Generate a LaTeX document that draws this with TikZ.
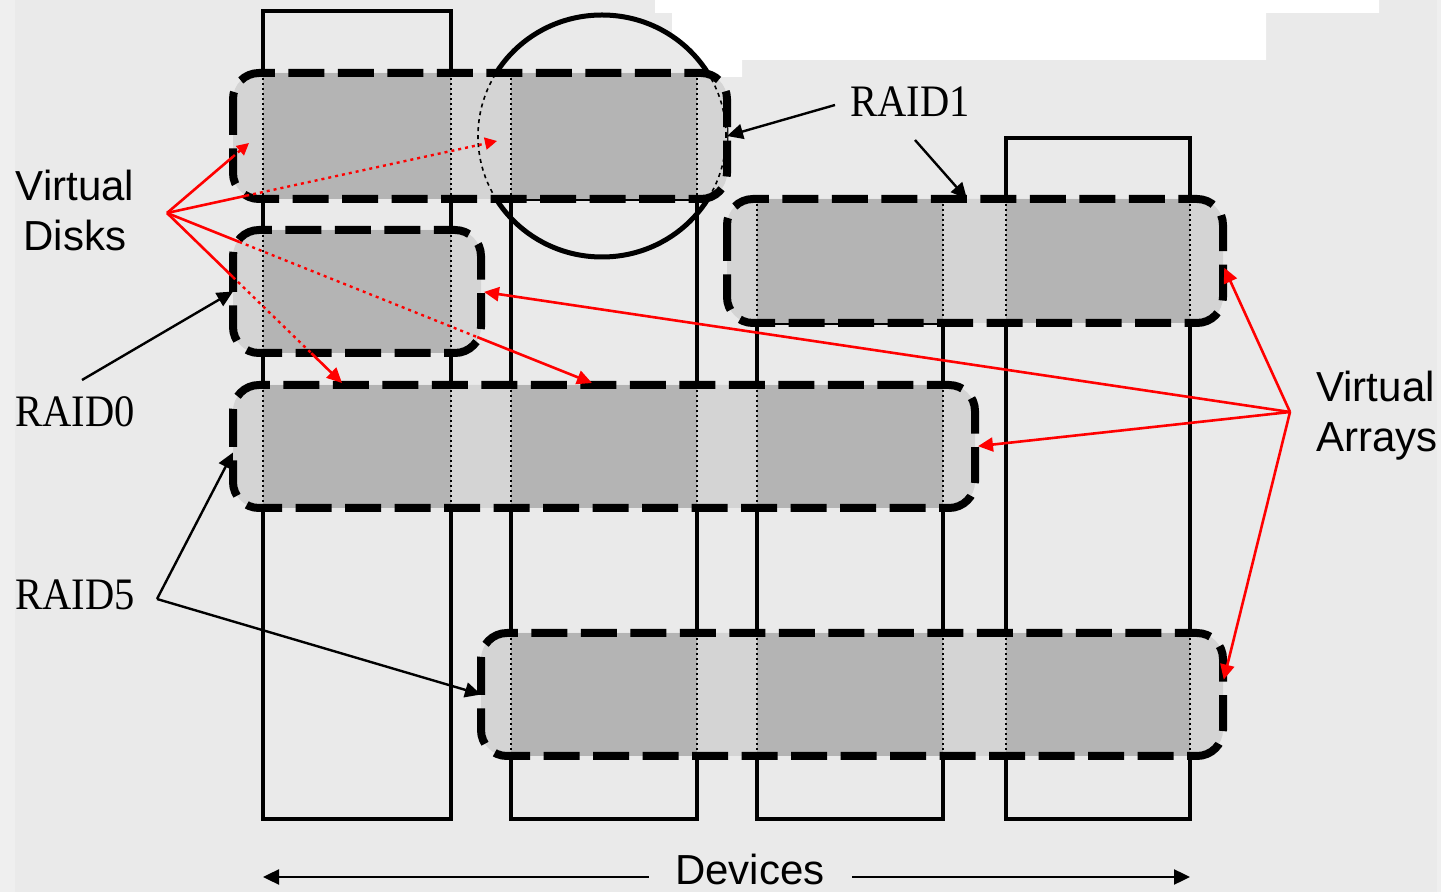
\documentclass[tikz,border=0pt]{standalone}
\usepackage{fontspec}
\setmainfont{Liberation Sans}
\newfontfamily\raidfont[FakeStretch=0.9]{Liberation Serif}
\usetikzlibrary{arrows.meta,fit,calc,shapes.geometric}
\definecolor{bgc}{HTML}{EAEAEA}
\definecolor{bgl}{HTML}{EFEFEF}
\definecolor{darkf}{HTML}{B4B4B4}
\definecolor{lightf}{HTML}{D4D4D4}
\definecolor{redc}{HTML}{FF0000}
\begin{document}
\begin{tikzpicture}[x=0.5pt,y=-0.5pt,
  devcol/.style={draw=black,line width=1.6pt,inner sep=0pt,outer sep=0pt,rectangle},
  boxn/.style={inner sep=0pt,outer sep=0pt,rectangle,rounded corners=13pt,fill=lightf},
  cedge/.style={draw=black,line width=0.9pt,dash pattern=on 1pt off 1.5pt},
  vborder/.style={draw=black,line width=4pt,dash pattern=on 18pt off 6.75pt,rounded corners=13pt},
  mirrorst/.style={ellipse,draw=black,line width=2.5pt,fill=bgc,inner sep=0pt,minimum width=124pt,minimum height=121pt},
  blk/.style={draw=black,line width=1.2pt,-{Triangle[length=8pt,width=7.5pt]}},
  rd/.style={draw=redc,line width=1.3pt},
  rdarr/.style={draw=redc,line width=1.3pt,-{Triangle[length=7.5pt,width=7pt]}},
  rddot/.style={draw=redc,line width=1.2pt,dash pattern=on 1.5pt off 2pt},
  rddotarr/.style={rddot,-{Triangle[length=6pt,width=6pt]}},
  lab/.style={inner sep=0pt,font=\fontsize{21}{25}\selectfont},
  rlab/.style={inner sep=0pt,font=\raidfont\fontsize{22.5}{26}\selectfont},
]
\useasboundingbox (0,0) rectangle (1441,892);
% background
\fill[bgc] (0,0) rectangle (1441,892);
\fill[bgl] (0,0) rectangle (15,892);
\fill[bgl] (1437,0) rectangle (1441,892);
\fill[white] (655,0) -- (1379,0) -- (1379,13) -- (1266,13) -- (1266,60) -- (742,60) -- (742,77) -- (672,77) -- (672,13) -- (655,13) -- cycle;
% mirror circle
\node[mirrorst] (mirror) at (602,136) {};
% devices (columns)
\node[devcol,fit={(263,11) (451,819)}] (d1) {};
\node[devcol,fit={(511,199) (697,819)}] (d2) {};
\node[devcol,fit={(757,323) (943,819)}] (d3) {};
\node[devcol,fit={(1006,138) (1190,819)}] (d4) {};

% ---- box A (RAID1, top left)
\node[boxn,fit={(233,73) (727,199)}] (boxA) {};
\fill[darkf] (263,73) rectangle (451,199);
\fill[darkf] (511,73) rectangle (697,199);
\foreach \x in {263,451,511,697} \draw[cedge] (\x,73) -- (\x,199);
\begin{scope}
\clip[rounded corners=13pt] (boxA.north west) rectangle (boxA.south east);
\draw[black,line width=0.8pt,dash pattern=on 2pt off 2pt] (mirror.center) ellipse [x radius=62pt,y radius=60.5pt];
\end{scope}
\draw[vborder] (boxA.north west) rectangle (boxA.south east);

% ---- box D (RAID1, right)
\node[boxn,fit={(727,199) (1223,323)}] (boxD) {};
\fill[darkf] (757,199) rectangle (943,323);
\fill[darkf] (1006,199) rectangle (1190,323);
\foreach \x in {757,943,1006,1190} \draw[cedge] (\x,199) -- (\x,323);
\draw[vborder] (boxD.north west) rectangle (boxD.south east);

% ---- box B (RAID0)
\node[boxn,fit={(233,230) (481,353)}] (boxB) {};
\fill[darkf] (263,230) rectangle (451,353);
\foreach \x in {263,451} \draw[cedge] (\x,230) -- (\x,353);
\draw[vborder] (boxB.north west) rectangle (boxB.south east);

% ---- box C (RAID5, middle)
\node[boxn,fit={(233,385) (975,508)}] (boxC) {};
\fill[darkf] (263,385) rectangle (451,508);
\fill[darkf] (511,385) rectangle (697,508);
\fill[darkf] (757,385) rectangle (943,508);
\foreach \x in {263,451,511,697,757,943} \draw[cedge] (\x,385) -- (\x,508);
\draw[vborder] (boxC.north west) rectangle (boxC.south east);

% ---- box E (RAID5, bottom)
\node[boxn,fit={(481,633) (1223,756)}] (boxE) {};
\fill[darkf] (511,633) rectangle (697,756);
\fill[darkf] (757,633) rectangle (943,756);
\fill[darkf] (1006,633) rectangle (1190,756);
\foreach \x in {511,697,757,943,1006,1190} \draw[cedge] (\x,633) -- (\x,756);
\draw[vborder] (boxE.north west) rectangle (boxE.south east);

% ---- labels
\node[lab,anchor=north,align=center] (vdisk) at (75,170) {Virtual\\Disks};
\node[lab,anchor=north west,align=left] (varr) at (1316,371) {Virtual\\Arrays};
\node[rlab,anchor=base west] (raid1) at (850,117) {RAID1};
\node[rlab,anchor=base west] (raid0) at (15,427) {RAID0};
\node[rlab,anchor=base west] (raid5) at (15,610) {RAID5};
\node[lab,anchor=base] (devices) at (750,884) {Devices};

% ---- connector ends
\coordinate (vdhub) at (167,213);
\coordinate (vahub) at (1290,412);
\coordinate (r1a) at (835,105);
\coordinate (r1b) at (915,140);
\coordinate (r0s) at (82,380);
\coordinate (r5hub) at (157,599);
\coordinate (tA1) at (249,143);
\coordinate (tA2) at (497,141);
\coordinate (tC1) at (342,383);
\coordinate (tC2) at (592,383);
\coordinate (devL) at (263,877);
\coordinate (devR) at (1190,877);

% ---- devices arrow
\draw[blk] ([xshift=-13pt]devices.west |- devL) -- (devL);
\draw[blk] ([xshift=13.5pt]devices.east |- devR) -- (devR);

% ---- black RAID arrows
\draw[blk] (r1a) -- (boxA.east);
\draw[blk] (r1b) -- ([xshift=-4pt]boxD.north);
\draw[blk] (r0s) -- (boxB.west);
\draw[blk] (r5hub) -- ([yshift=-3pt]boxC.west);
\draw[blk] (r5hub) -- (boxE.west);

% ---- red: virtual disks
\draw[rd] (vdhub) -- ($(vdhub)!0.8!(tA1)$);
\draw[rddotarr] ($(vdhub)!0.8!(tA1)$) -- (tA1);
\draw[rd] (vdhub) -- ($(vdhub)!0.24!(tA2)$);
\draw[rddotarr] ($(vdhub)!0.24!(tA2)$) -- (tA2);
\draw[rd] (vdhub) -- ($(vdhub)!0.17!(tC2)$);
\draw[rddot] ($(vdhub)!0.17!(tC2)$) -- ($(vdhub)!0.73!(tC2)$);
\draw[rdarr] ($(vdhub)!0.73!(tC2)$) -- (tC2);
\draw[rd] (vdhub) -- ($(vdhub)!0.377!(tC1)$);
\draw[rddot] ($(vdhub)!0.377!(tC1)$) -- ($(vdhub)!0.824!(tC1)$);
\draw[rdarr] ($(vdhub)!0.824!(tC1)$) -- (tC1);

% ---- red: virtual arrays
\draw[rdarr,shorten >=1.5pt] (vahub) -- ([yshift=-2pt]boxD.east);
\draw[rdarr,shorten >=1.5pt] (vahub) -- (boxB.east);
\draw[rdarr,shorten >=1.5pt] (vahub) -- (boxC.east);
\draw[rdarr,shorten >=1.5pt] (vahub) -- ([yshift=6pt]boxE.east);
\end{tikzpicture}
\end{document}
